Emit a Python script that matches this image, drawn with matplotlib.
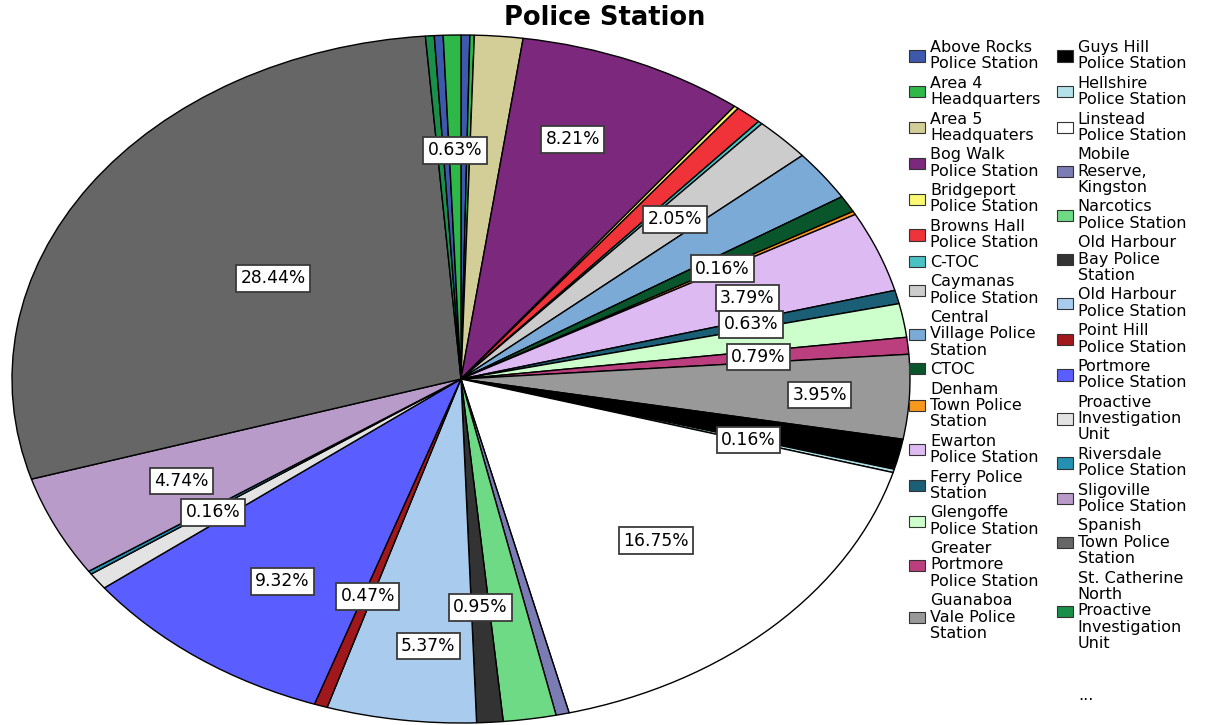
import matplotlib
matplotlib.use("Agg")
import matplotlib.pyplot as plt
from matplotlib.patches import Patch
import numpy as np

# ---------------- data ----------------
categories = [
    "Above Rocks\nPolice Station", "Area 4\nHeadquarters", "Area 5\nHeadquaters",
    "Bog Walk\nPolice Station", "Bridgeport\nPolice Station", "Browns Hall\nPolice Station",
    "C-TOC", "Caymanas\nPolice Station", "Central\nVillage Police\nStation", "CTOC",
    "Denham\nTown Police\nStation", "Ewarton\nPolice Station", "Ferry Police\nStation",
    "Glengoffe\nPolice Station", "Greater\nPortmore\nPolice Station",
    "Guanaboa\nVale Police\nStation", "Guys Hill\nPolice Station",
    "Hellshire\nPolice Station", "Linstead\nPolice Station", "Mobile\nReserve,\nKingston",
    "Narcotics\nPolice Station", "Old Harbour\nBay Police\nStation",
    "Old Harbour\nPolice Station", "Point Hill\nPolice Station", "Portmore\nPolice Station",
    "Proactive\nInvestigation\nUnit", "Riversdale\nPolice Station",
    "Sligoville\nPolice Station", "Spanish\nTown Police\nStation",
    "St. Catherine\nNorth\nProactive\nInvestigation\nUnit",
    "(unlisted 31)", "(unlisted 32)",
]
counts = [2, 1, 11, 52, 1, 6, 1, 13, 15, 5,
          1, 24, 4, 10, 5, 25, 9, 1, 106, 3,
          12, 6, 34, 3, 59, 5, 1, 30, 180, 2,
          2, 4]
colors = ["#3E58AC", "#2EB848", "#D3CE97", "#7C287D", "#FBF873", "#EF3338",
          "#48C2C5", "#CCCCCC", "#7AAAD5", "#0A562C", "#F8981D", "#DDBAF1",
          "#1A5F76", "#CCFFCC", "#BB3F7F", "#999999", "#000000", "#B3E3E8",
          "#FFFFFF", "#7C7CB4", "#6FDA85", "#333333", "#A9CCEE", "#A0171C",
          "#5A5DFF", "#E3E3E3", "#2490B2", "#B89BC9", "#666666", "#1A8F4A",
          "#3E58AC", "#2EB848"]
legend_count = 30          # entries shown in the legend before "..."
# slices carrying a percentage label
labeled = [3, 7, 10, 11, 12, 14, 15, 17, 18, 21, 22, 23, 24, 26, 27, 28, 31]

# ---------------- figure ----------------
plt.rcParams["font.family"] = ["DejaVu Sans"]
W, H = 1205, 725
fig = plt.figure(figsize=(W / 100, H / 100), dpi=100)

cx, cy, rx, ry = 461, 379, 449, 344
ax = fig.add_axes([(cx - rx) / W, (H - cy - ry) / H, 2 * rx / W, 2 * ry / H])

wedges, _ = ax.pie(counts, colors=colors, startangle=90, counterclock=False,
                   radius=1.0,
                   wedgeprops=dict(edgecolor="black", linewidth=1.0))
ax.set_aspect("auto")
ax.set_xlim(-1, 1)
ax.set_ylim(-1, 1)
ax.axis("off")

total = float(sum(counts))
# label placement (radius, angular nudge in degrees) - layout only
label_r = {3: (0.74, 3.1), 15: (0.80, -0.3), 18: (0.64, -1.3), 22: (0.78, 2.3),
           24: (0.71, 1.8), 11: (0.68, -1.5), 28: (0.51, -0.7), 27: (0.69, 0),
           26: (0.675, 0.8)}
for i in labeled:
    w = wedges[i]
    mid = 0.5 * (w.theta1 + w.theta2)
    r, d = label_r.get(i, (0.665, 0.0))
    a = np.deg2rad(mid + d)
    ax.text(r * np.cos(a), r * np.sin(a), f"{100 * counts[i] / total:.2f}%",
            ha="center", va="center", fontsize=12.3, color="black",
            bbox=dict(boxstyle="square,pad=0.25", fc="white", ec="#3a3a3a", lw=1.3),
            zorder=5)

# ---------------- legend ----------------
handles = [Patch(facecolor=colors[i], edgecolor="#333333", linewidth=0.8,
                 label=categories[i]) for i in range(legend_count)]
handles.append(Patch(facecolor="none", edgecolor="none", label="\n\n..."))
leg = fig.legend(handles=handles, loc="upper left",
                 bbox_to_anchor=(909 / W, 1 - 40 / H),
                 ncol=2, frameon=False, fontsize=11.5, borderpad=0,
                 borderaxespad=0, handlelength=1.0, handleheight=0.7,
                 handletextpad=0.33, labelspacing=0.28, columnspacing=1.0)
for t in leg.get_texts():
    t.set_linespacing(1.11)

fig.text(605 / W, 1 - 18 / H, "Police Station", ha="center", va="center",
         fontsize=18.5, fontweight="bold")

fig.savefig("out.png", dpi=100)
